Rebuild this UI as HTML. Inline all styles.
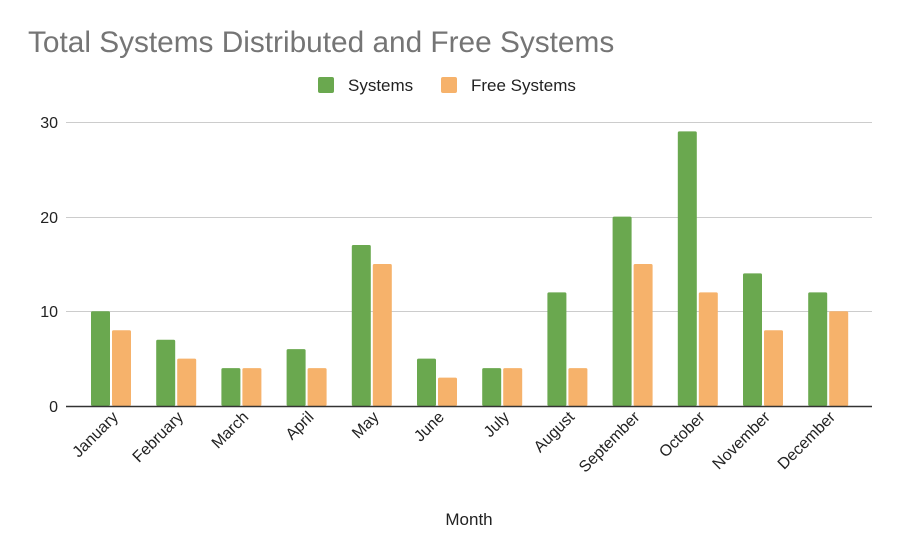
<!DOCTYPE html>
<html><head><meta charset="utf-8"><style>
html,body{margin:0;padding:0;background:#fff;}
svg{display:block;font-family:"Liberation Sans",Arial,sans-serif;}
</style></head><body>
<svg width="900" height="554" viewBox="0 0 900 554" xmlns="http://www.w3.org/2000/svg">
<rect width="900" height="554" fill="#fff"/>
<text x="28" y="52" font-size="29.8" fill="#757575">Total Systems Distributed and Free Systems</text>
<rect x="318" y="77" width="16" height="16" rx="2" fill="#6aa84f"/>
<text x="348" y="91" font-size="17" fill="#222">Systems</text>
<rect x="441" y="77" width="16" height="16" rx="2" fill="#f6b26b"/>
<text x="471" y="91" font-size="17" fill="#222">Free Systems</text>
<g stroke="#cccccc" stroke-width="1">
<line x1="66" y1="122.5" x2="872" y2="122.5"/>
<line x1="66" y1="217.5" x2="872" y2="217.5"/>
<line x1="66" y1="311.5" x2="872" y2="311.5"/>
</g>
<g font-size="16" fill="#222" text-anchor="end">
<text x="58" y="128">30</text>
<text x="58" y="223">20</text>
<text x="58" y="317">10</text>
<text x="58" y="412">0</text>
</g>
<g id="bars"></g>
<line x1="66" y1="406.5" x2="872" y2="406.5" stroke="#333" stroke-width="1.5"/>
<g id="labels" font-size="16" fill="#222" text-anchor="end"></g>
<text x="469" y="525" font-size="17" fill="#222" text-anchor="middle">Month</text>
<script>
var s=[10,7,4,6,17,5,4,12,20,29,14,12],f=[8,5,4,4,15,3,4,4,15,12,8,10];
var m=["January","February","March","April","May","June","July","August","September","October","November","December"];
var b=document.getElementById("bars"),l=document.getElementById("labels"),ns="http://www.w3.org/2000/svg";
function r(x,v,c){var e=document.createElementNS(ns,"rect");var h=v*9.47;e.setAttribute("x",x);e.setAttribute("y",406-h);e.setAttribute("width",19);e.setAttribute("height",h);e.setAttribute("fill",c);e.setAttribute("rx",1.5);b.appendChild(e);}
for(var i=0;i<12;i++){var c=111+i*65.2;r(c-20,s[i],"#6aa84f");r(c+1,f[i],"#f6b26b");
var t=document.createElementNS(ns,"text");t.setAttribute("transform","translate("+(c+8)+",418) rotate(-45)");t.textContent=m[i];l.appendChild(t);}
</script>
</svg>
</body></html>
